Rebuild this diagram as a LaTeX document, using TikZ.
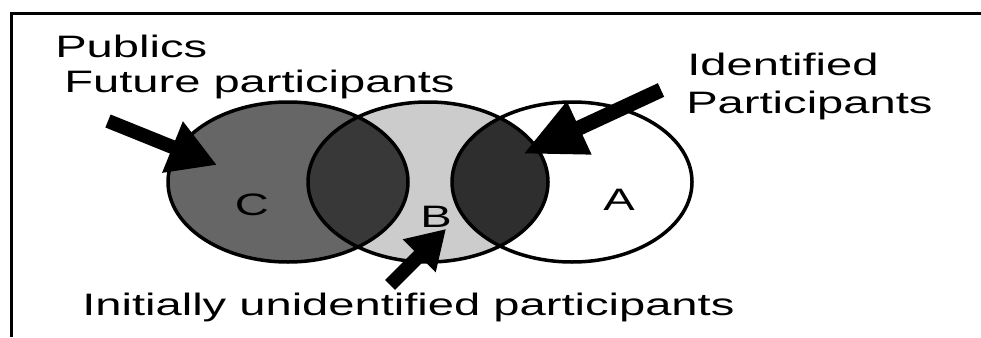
\documentclass[tikz,border=0pt]{standalone}
\usepackage{fontspec}
\setmainfont{Liberation Sans}
\usetikzlibrary{arrows.meta}

\begin{document}
\begin{tikzpicture}[
  x=1pt,y=-1pt,
  frame/.style={draw=black,line width=3pt},
  setline/.style={draw=black,line width=3.5pt},
  word/.style={font=\fontsize{31}{37}\selectfont,xscale=1.52,
    anchor=base west,inner sep=0pt},
  letter/.style={font=\fontsize{31}{37}\selectfont,xscale=1.52,
    anchor=base,inner sep=0pt},
  pointer/.style={line width=14pt,-{Triangle[length=48pt,width=52pt]}}
]
  \useasboundingbox (0,0) rectangle (981,337);
  \draw[frame] (11.5,337) -- (11.5,13.5) -- (981,13.5);

  \coordinate (C) at (288,182);
  \coordinate (B) at (428,182);
  \coordinate (A) at (572,182);
  \fill[black!60] (C) ellipse [x radius=120,y radius=80];
  \fill[black!20] (B) ellipse [x radius=120,y radius=80];
  \fill[white] (A) ellipse [x radius=120,y radius=80];
  \begin{scope}
    \clip (C) ellipse [x radius=120,y radius=80];
    \fill[black!78] (B) ellipse [x radius=120,y radius=80];
  \end{scope}
  \begin{scope}
    \clip (A) ellipse [x radius=120,y radius=80];
    \fill[black!82] (B) ellipse [x radius=120,y radius=80];
  \end{scope}
  \foreach \set in {C,B,A}
    \draw[setline] (\set) ellipse [x radius=120,y radius=80];

  \node[letter] (labelC) at (252,215) {C};
  \node[letter] (labelB) at (436,227) {B};
  \node[letter] (labelA) at (619,210) {A};

  \node[word] (publics) at (55,57) {Publics};
  \node[word] (future) at (64,92) {Future participants};
  \node[word] (ident) at (687,75) {Identified};
  \node[word] (identP) at (686,113) {Participants};
  \node[word] (initial) at (82,315) {Initially unidentified participants};

  \coordinate (futureTail) at (108,121);
  \coordinate (futureTip) at (217,165);
  \coordinate (identTail) at (661,90);
  \coordinate (identTip) at (523,154);
  \coordinate (initialTail) at (390,285);
  \coordinate (initialTip) at (446,229);
  \draw[pointer] (futureTail) -- (futureTip);
  \draw[pointer,line width=15pt,-{Triangle[length=62pt,width=54pt]}]
    (identTail) -- (identTip);
  \draw[pointer,-{Triangle[length=38pt,width=44pt]}]
    (initialTail) -- (initialTip);
\end{tikzpicture}
\end{document}
